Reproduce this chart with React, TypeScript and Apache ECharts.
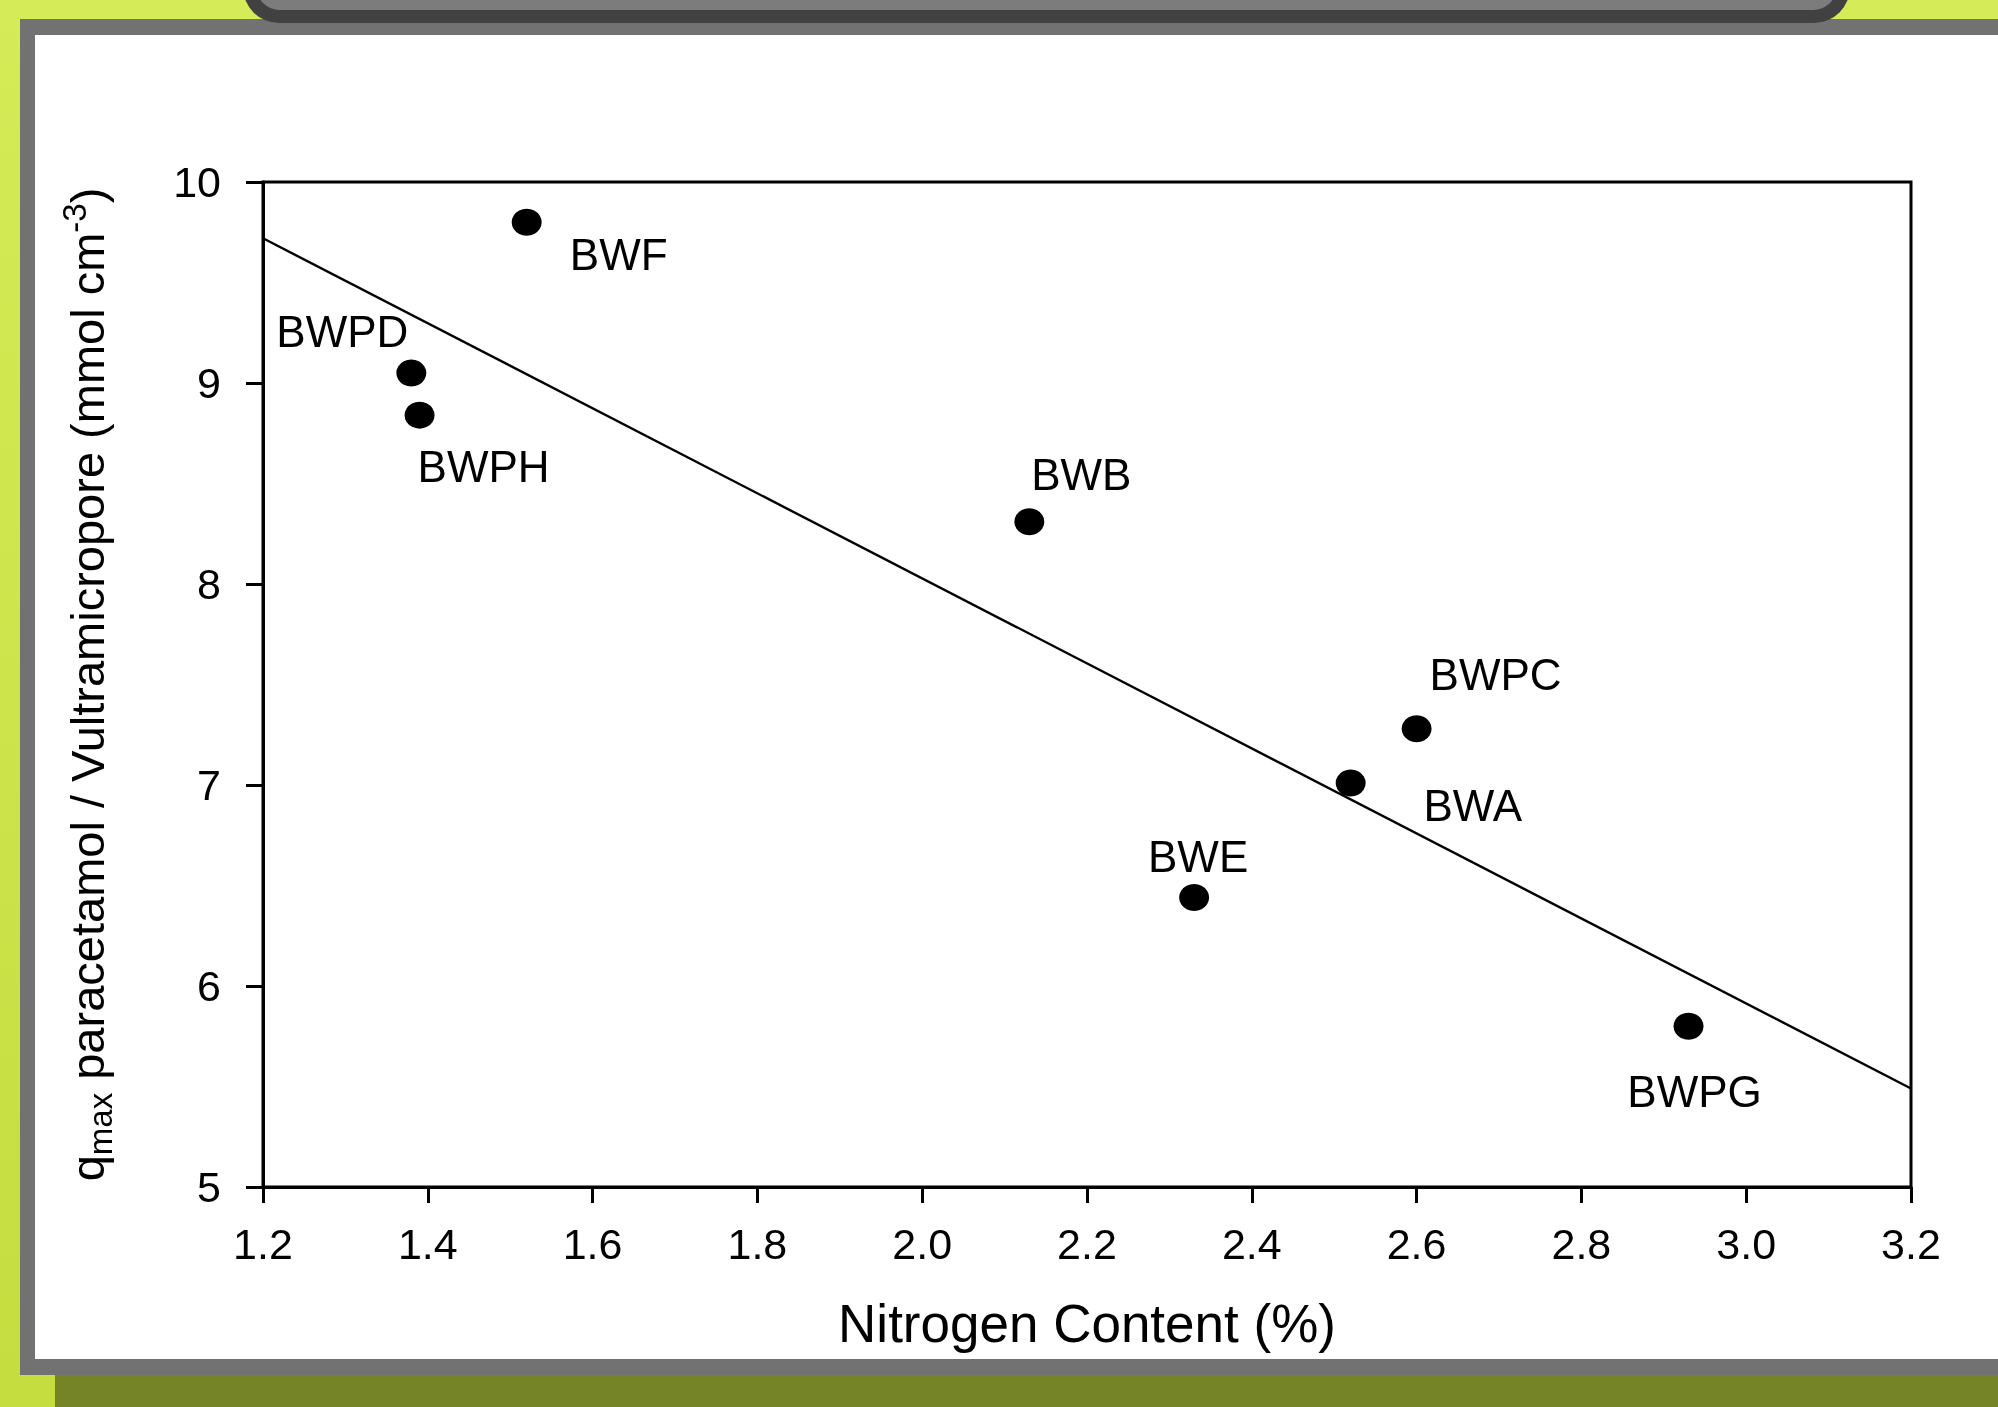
import React, { useEffect, useRef } from "react";
import * as echarts from "echarts";

// ---- data ----
const sampleNames = ["BWF", "BWPD", "BWPH", "BWB", "BWPC", "BWA", "BWE", "BWPG"];
const nitrogenContent = [1.52, 1.38, 1.39, 2.13, 2.6, 2.52, 2.33, 2.93];
const qmaxValues = [9.8, 9.05, 8.84, 8.31, 7.28, 7.01, 6.44, 5.8];
const fitLineX = [1.2, 3.2];
const fitLineY = [9.72, 5.49];

// label placement (pixel offsets of each label from its point)
const labelOffsets: [number, number][] = [
  [92, 32],
  [-69, -41],
  [64, 51],
  [52, -47],
  [79, -54],
  [122, 23],
  [4, -41],
  [6, 65],
];

const FONT = "'Liberation Sans', Arial, Helvetica, sans-serif";
const W = 1998;
const H = 1407;

export default function App() {
  const ref = useRef<HTMLDivElement>(null);

  useEffect(() => {
    if (!ref.current) return;
    const chart = echarts.init(ref.current, undefined, { renderer: "svg" });

    const scatterData = sampleNames.map((n, i) => ({
      name: n,
      value: [nitrogenContent[i], qmaxValues[i]],
      label: {
        show: true,
        position: "inside",
        offset: labelOffsets[i],
        formatter: n,
        color: "#000",
        opacity: 1,
        fontSize: 44,
        fontFamily: FONT,
      },
    }));

    const fitData = fitLineX.map((x, i) => [x, fitLineY[i]]);

    chart.setOption({
      animation: false,
      backgroundColor: "transparent",
      graphic: [
        {
          type: "rect",
          z: -10,
          silent: true,
          shape: { x: 0, y: 0, width: W, height: H },
          style: {
            fill: new echarts.graphic.LinearGradient(0, 0, 0, 1, [
              { offset: 0, color: "#d5eb57" },
              { offset: 1, color: "#c5dd3f" },
            ]),
          },
        },
        {
          type: "rect",
          z: -10,
          silent: true,
          shape: { x: 55, y: 1375, width: W - 55, height: H - 1375 },
          style: { fill: "#748426" },
        },
        {
          type: "rect",
          z: -10,
          silent: true,
          shape: { x: 20, y: 19, width: W - 20, height: 1375 - 19 },
          style: { fill: "#727272" },
        },
        {
          type: "rect",
          z: -10,
          silent: true,
          shape: { x: 35, y: 35, width: W - 35, height: 1359 - 35 },
          style: { fill: "#ffffff" },
        },
        {
          type: "rect",
          z: -9,
          silent: true,
          shape: { x: 243, y: -60, width: 1850 - 243, height: 83, r: [0, 0, 36, 36] },
          style: { fill: "#414141" },
        },
        {
          type: "rect",
          z: -9,
          silent: true,
          shape: { x: 256, y: -60, width: 1837 - 256, height: 70, r: [0, 0, 24, 24] },
          style: { fill: "#7c7c7c" },
        },
      ],
      grid: {
        left: 263,
        right: W - 1911,
        top: 182,
        bottom: H - 1187,
        containLabel: false,
        show: true,
        borderColor: "#000",
        borderWidth: 3,
        backgroundColor: "transparent",
      },
      xAxis: {
        type: "value",
        min: 1.2,
        max: 3.2,
        interval: 0.2,
        name: "Nitrogen Content (%)",
        nameLocation: "middle",
        nameGap: 110,
        nameTextStyle: { fontSize: 53, color: "#000", fontFamily: FONT },
        axisLine: { show: true, lineStyle: { color: "#000", width: 3 } },
        axisTick: { show: true, inside: false, length: 16, lineStyle: { color: "#000", width: 3 } },
        axisLabel: {
          show: true,
          margin: 35,
          fontSize: 43,
          color: "#000",
          fontFamily: FONT,
          formatter: (v: number) => v.toFixed(1),
        },
        splitLine: { show: false },
      },
      yAxis: {
        type: "value",
        min: 5,
        max: 10,
        interval: 1,
        name: "q{sub|max} paracetamol / Vultramicropore (mmol cm{sup|-3})",
        nameLocation: "middle",
        nameRotate: 90,
        nameGap: 146,
        nameTextStyle: {
          fontSize: 47,
          color: "#000",
          fontFamily: FONT,
          rich: {
            sub: { fontSize: 33, fontFamily: FONT, color: "#000", padding: [26, 0, 0, 0] },
            sup: { fontSize: 33, fontFamily: FONT, color: "#000", padding: [0, 0, 26, 0] },
          },
        },
        axisLine: { show: true, lineStyle: { color: "#000", width: 3 } },
        axisTick: { show: true, inside: false, length: 17, lineStyle: { color: "#000", width: 3 } },
        axisLabel: { show: true, margin: 42, fontSize: 43, color: "#000", fontFamily: FONT },
        splitLine: { show: false },
      },
      series: [
        {
          type: "line",
          data: fitData,
          symbol: "none",
          lineStyle: { color: "#000", width: 2.4 },
          z: 2,
          silent: true,
        },
        {
          type: "scatter",
          data: scatterData,
          symbol: "circle",
          symbolSize: [30, 27],
          itemStyle: { color: "#000", opacity: 1 },
          emphasis: { disabled: true },
          z: 3,
        },
      ],
    });

    return () => chart.dispose();
  }, []);

  return (
    <div
      ref={ref}
      style={{ position: "fixed", left: 0, top: 0, width: W, height: H }}
    />
  );
}
